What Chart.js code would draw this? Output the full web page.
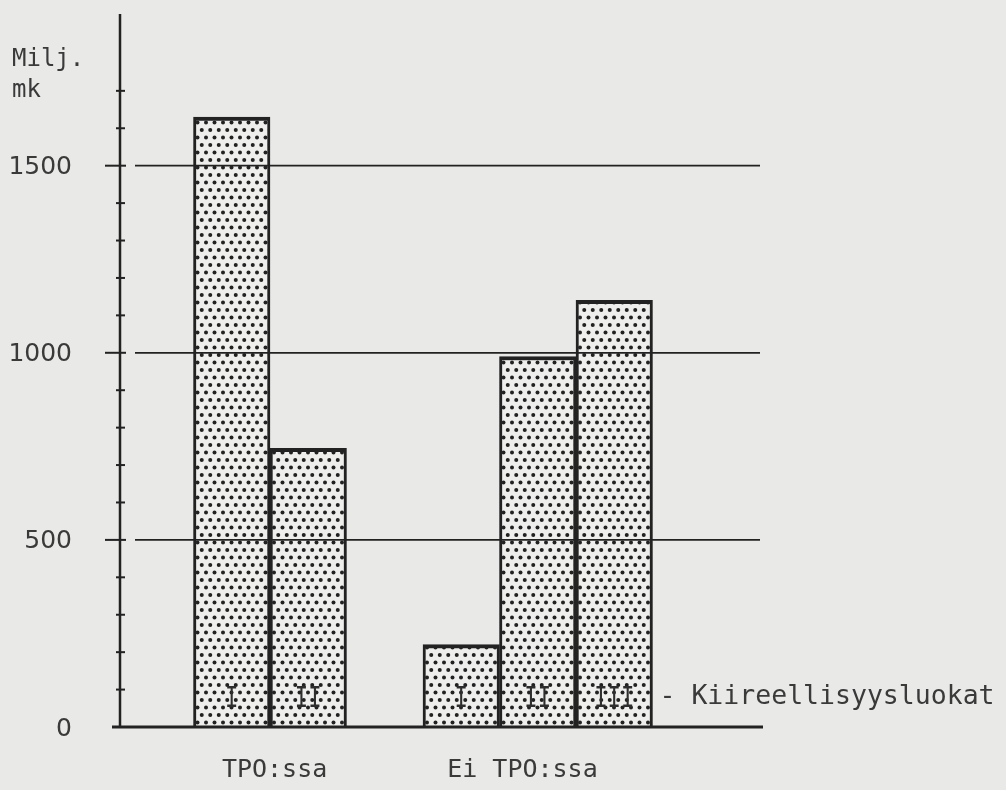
<!DOCTYPE html>
<html>
<head>
<meta charset="utf-8">
<script src="https://cdn.jsdelivr.net/npm/chart.js@4"></script>
<style>
body { margin:0; background:#e9e9e7; }
canvas { display:block; }
</style>
</head>
<body>
<canvas id="chart" width="1006" height="790"></canvas>
<script>
// data
const categories = ["", "I", "II", "", "I", "II", "III", ""]
const groups = ["TPO:ssa", "Ei TPO:ssa"]
const tpoValues = [1630, 745]
const eiValues = [220, 990, 1140]
const yLabels = [0, 500, 1000, 1500]
const minorStep = 100
const minorMax = 1700

const values = [null, ...tpoValues, null, ...eiValues, null]

const ink = "#222"
const textInk = "#3a3a3a"

// dotted screen fill like the printed original
function dotPattern(){
const p = document.createElement("canvas")
p.width = 17
p.height = 15
const c = p.getContext("2d")
c.fillStyle = "#eeeeec"
c.fillRect(0,0,17,15)
c.fillStyle = "#222"
const dots = [[2,2.5],[10.5,2.5],[6.25,10],[14.75,10]]
dots.forEach(d => {
c.beginPath()
c.arc(d[0],d[1],2,0,Math.PI*2)
c.fill()
})
return c.createPattern(p,"repeat")
}

const drawAxes = {
id:"drawAxes",
afterDatasetsDraw(chart){
const ctx = chart.ctx
const x = chart.scales.x
const y = chart.scales.y
const axisX = chart.chartArea.left + 3
const ruleEnd = chart.chartArea.right + 31
const y0 = y.getPixelForValue(0)

ctx.save()
ctx.strokeStyle = ink

// vertical axis
ctx.lineWidth = 2.5
ctx.beginPath()
ctx.moveTo(axisX, chart.chartArea.top - 2)
ctx.lineTo(axisX, y0)
ctx.stroke()

// minor ticks
ctx.lineWidth = 2
for(let v = minorStep; v <= minorMax; v += minorStep){
if(v % 500 === 0) continue
const py = y.getPixelForValue(v)
ctx.beginPath()
ctx.moveTo(axisX - 4, py)
ctx.lineTo(axisX + 5, py)
ctx.stroke()
}

// major ticks and rules
yLabels.forEach(v => {
const py = y.getPixelForValue(v)
if(v === 0){
ctx.lineWidth = 3
ctx.beginPath()
ctx.moveTo(axisX - 8, py)
ctx.lineTo(ruleEnd + 3, py)
ctx.stroke()
return
}
ctx.lineWidth = 2
ctx.beginPath()
ctx.moveTo(axisX - 15, py)
ctx.lineTo(axisX + 6, py)
ctx.stroke()
ctx.lineWidth = 1.8
ctx.beginPath()
ctx.moveTo(axisX + 15, py)
ctx.lineTo(ruleEnd, py)
ctx.stroke()
})

// tick labels
ctx.fillStyle = textInk
ctx.font = "25px 'DejaVu Sans'"
ctx.textAlign = "right"
ctx.textBaseline = "middle"
yLabels.forEach(v => {
ctx.fillText(String(v), axisX - 48, y.getPixelForValue(v) + 2)
})

// unit
ctx.font = "24px 'DejaVu Sans Mono'"
ctx.textAlign = "left"
ctx.textBaseline = "alphabetic"
ctx.fillText("Milj.", 12, 66)
ctx.fillText("mk", 12, 97)

// class numerals inside bars (tall narrow typewriter letters)
const meta = chart.getDatasetMeta(0)
ctx.font = "31px 'Liberation Mono'"
ctx.textAlign = "center"
ctx.fillStyle = "#2e2e2e"
meta.data.forEach((bar, i) => {
if(values[i] === null) return
ctx.save()
ctx.translate(bar.x, y0 - 20)
ctx.scale(0.72, 1)
ctx.fillText(categories[i], 0, 0)
ctx.restore()
})

// legend note
ctx.font = "26.5px 'DejaVu Sans Mono'"
ctx.textAlign = "left"
ctx.fillStyle = textInk
const last = meta.data[6]
ctx.fillText("- Kiireellisyysluokat", last.x + last.width/2 + 7, y0 - 23)

// group labels
ctx.font = "25px 'DejaVu Sans Mono'"
ctx.textAlign = "center"
ctx.fillText(groups[0], x.getPixelForValue(1.56), y0 + 50)
ctx.fillText(groups[1], x.getPixelForValue(4.8), y0 + 50)

ctx.restore()
}
}

const ctx = document.getElementById("chart").getContext("2d")

const chart = new Chart(ctx,{
type:"bar",
data:{
labels: categories,
datasets:[{
data: values,
backgroundColor: dotPattern(),
borderColor: ink,
borderWidth: {top:4, left:3, right:3, bottom:0},
borderSkipped: false,
barPercentage: 1,
categoryPercentage: 1
}]
},
options:{
responsive:false,
animation:false,
layout:{
padding:{left:117, right:277, top:16, bottom:63}
},
plugins:{
legend:{display:false},
tooltip:{enabled:false}
},
scales:{
x:{display:false},
y:{
display:false,
min:0,
max:1900
}
}
},
plugins:[drawAxes]
})
</script>
</body>
</html>
